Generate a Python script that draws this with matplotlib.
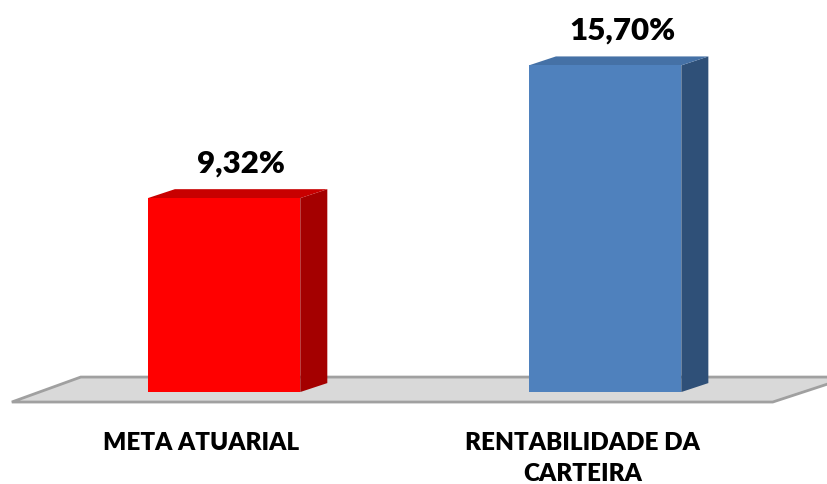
import matplotlib

matplotlib.use("Agg")
import matplotlib.pyplot as plt
from matplotlib.patches import Polygon

categories = ["META ATUARIAL", "RENTABILIDADE DA\nCARTEIRA"]
values = [9.32, 15.70]
front_colors = ["#ff0000", "#4f81bd"]
side_colors = ["#a40000", "#2f5078"]
top_colors = ["#c80000", "#4571a6"]

plt.rcParams["font.family"] = ["Lato", "DejaVu Sans"]

fig = plt.figure(figsize=(8.28, 4.85), dpi=100)
ax = fig.add_axes([0, 0, 1, 1])
ax.set_xlim(-0.588, 1.585)
ax.set_ylim(-4.42, 18.89)
ax.axis("off")

width = 0.40
dx, dy = 0.071, 0.43  # Tiefe der 3D-Säulen

# Boden
floor = Polygon(
    [(-0.557, -0.48), (1.44, -0.48), (1.64, 0.72), (-0.376, 0.72)],
    closed=True, facecolor="#d9d9d9", edgecolor="#a0a0a0", linewidth=2, zorder=1,
)
ax.add_patch(floor)

for i, (v, fc, sc, tc) in enumerate(zip(values, front_colors, side_colors, top_colors)):
    left, right = i - width / 2, i + width / 2
    ax.bar(i, v, width=width, color=fc, zorder=3)
    ax.add_patch(Polygon([(right, 0), (right + dx, dy), (right + dx, v + dy), (right, v)],
                         closed=True, facecolor=sc, edgecolor="none", zorder=2))
    ax.add_patch(Polygon([(left, v), (left + dx, v + dy), (right + dx, v + dy), (right, v)],
                         closed=True, facecolor=tc, edgecolor="none", zorder=2))
    label = f"{v:.2f}".replace(".", ",") + "%"
    ax.annotate(label, xy=(i + dx / 2 + 0.01, v + dy), xytext=(0, 13),
                textcoords="offset points", ha="center", va="baseline",
                fontsize=22.5, fontweight="heavy", color="#000000")
    ax.text(i - 0.06, -1.85, categories[i], ha="center", va="top",
            fontsize=17.5, fontweight="heavy", color="#000000", linespacing=1.5)

fig.savefig("out.png", dpi=100, facecolor="white")
